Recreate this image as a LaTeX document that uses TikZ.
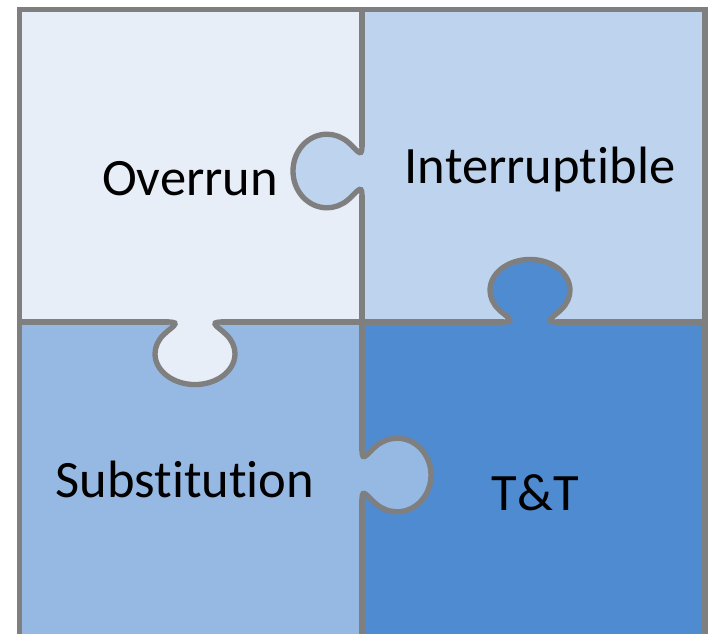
\documentclass[tikz,border=0pt]{standalone}
\usepackage{fontspec}
\setmainfont{Carlito}[Ligatures=NoCommon]
\definecolor{pieceO}{HTML}{E8EEF7}
\definecolor{pieceI}{HTML}{BED4EE}
\definecolor{pieceS}{HTML}{96B9E3}
\definecolor{pieceT}{HTML}{4F8BD1}
\definecolor{seamgray}{HTML}{7F7F7F}
\newcommand{\knobpath}{(0,-26) .. controls (0,-13) and (6,-24) .. (14,-31.4) .. controls (20,-36.9) and (27.4,-40) .. (35,-40) .. controls (53.8,-40) and (69,-22.1) .. (69,0) .. controls (69,22.1) and (53.8,40) .. (35,40) .. controls (27.4,40) and (20,36.9) .. (14,31.4) .. controls (6,24) and (0,13) .. (0,26)}
\tikzset{
	seam/.style={draw=seamgray,line width=4pt},
	piecetext/.style={anchor=base,inner sep=0pt,font=\fontsize{39.4}{47}\selectfont}
}
\begin{document}
\begin{tikzpicture}[x=0.75pt,y=-0.75pt]
	\useasboundingbox (0,0) rectangle (708,633);
	\clip (0,0) rectangle (708,633);
	\coordinate (midTop) at (362,9.5);
	\coordinate (midBot) at (362,645);
	\coordinate (midLeft) at (19.5,322);
	\coordinate (midRight) at (705,322);
	\fill[pieceO] (19.5,9.5) rectangle (362,322);
	\fill[pieceI] (362,9.5) rectangle (705,322);
	\fill[pieceS] (19.5,322) rectangle (362,645);
	\fill[pieceT] (362,322) rectangle (705,645);
	\begin{scope}[shift={(362,171)},x={(-0.75pt,0pt)},y={(0pt,-0.69pt)}]
		\fill[pieceI] \knobpath -- cycle;
		\draw[seam] \knobpath;
		\coordinate (knobIa) at (0,-26);
		\coordinate (knobIb) at (0,26);
	\end{scope}
	\begin{scope}[shift={(362,475)},x={(0.75pt,0pt)},y={(0pt,-0.69pt)}]
		\fill[pieceS] \knobpath -- cycle;
		\draw[seam] \knobpath;
		\coordinate (knobSa) at (0,-26);
		\coordinate (knobSb) at (0,26);
	\end{scope}
	\begin{scope}[shift={(195,322)},x={(0pt,-0.68pt)},y={(0.75pt,0pt)}]
		\fill[pieceO] \knobpath -- cycle;
		\draw[seam] \knobpath;
		\coordinate (knobOa) at (0,-26);
		\coordinate (knobOb) at (0,26);
	\end{scope}
	\begin{scope}[shift={(530,322)},x={(0pt,0.68pt)},y={(0.75pt,0pt)}]
		\fill[pieceT] \knobpath -- cycle;
		\draw[seam] \knobpath;
		\coordinate (knobTa) at (0,-26);
		\coordinate (knobTb) at (0,26);
	\end{scope}
	\draw[seam] (midTop) -- (knobIa);
	\draw[seam] (knobIb) -- (knobSa);
	\draw[seam] (knobSb) -- (midBot);
	\draw[seam] (midLeft) -- (knobOa);
	\draw[seam] (knobOb) -- (knobTa);
	\draw[seam] (knobTb) -- (midRight);
	\draw[seam] (19.5,9.5) rectangle (705,645);
	\node (overrun)[piecetext] at (190,195) {Overrun};
	\node (interruptible)[piecetext] at (540,183) {Interruptible};
	\node (substitution)[piecetext] at (185,497) {Substitution};
	\node (tandt)[piecetext] at (535.5,510) {T\&T};
\end{tikzpicture}
\end{document}
